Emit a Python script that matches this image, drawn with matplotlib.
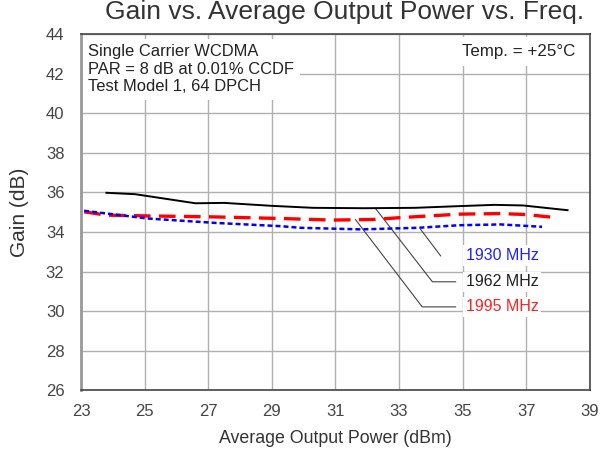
import matplotlib
matplotlib.use('Agg')
import matplotlib.pyplot as plt
import numpy as np

plt.rcParams['font.family'] = ['Liberation Sans', 'DejaVu Sans']

x_1962 = [23.8, 24.7, 26.6, 27.5, 29.0, 30.3, 31.9, 33.5, 34.8, 36.0, 36.9, 38.3]
y_1962 = [35.98, 35.91, 35.45, 35.47, 35.32, 35.22, 35.20, 35.22, 35.30, 35.37, 35.34, 35.10]

x_1995 = [23.1, 23.8, 25.1, 27.2, 29.3, 30.9, 32.2, 33.1, 34.9, 36.2, 37.0, 37.9]
y_1995 = [35.02, 34.85, 34.81, 34.76, 34.68, 34.60, 34.63, 34.73, 34.90, 34.93, 34.88, 34.73]

x_1930 = [23.1, 25.1, 27.2, 29.3, 29.9, 31.8, 33.6, 34.9, 36.2, 37.5]
y_1930 = [35.07, 34.68, 34.46, 34.29, 34.21, 34.13, 34.21, 34.34, 34.38, 34.26]

x_ticks = [23, 25, 27, 29, 31, 33, 35, 37, 39]
y_ticks = [26, 28, 30, 32, 34, 36, 38, 40, 42, 44]

## leader lines: (points), label position, label, colour
leaders = [
    ([33.68, 34.31], [34.13, 32.79], (35.1, 32.8), '1930 MHz', '#2020ff'),
    ([32.26, 34.05, 34.78], [35.19, 31.48, 31.48], (35.1, 31.48), '1962 MHz', '#222222'),
    ([31.63, 33.73, 34.78], [34.63, 30.21, 30.21], (35.1, 30.21), '1995 MHz', '#ff2020'),
]

txt_col = '#333333'

fig = plt.figure(figsize=(6, 4.5), dpi=100)
ax = fig.add_axes([0.135, 0.133, 0.848, 0.791])

ax.plot(x_1962, y_1962, color='black', lw=1.4, zorder=3)
ax.plot(x_1995, y_1995, color='#ff0000', lw=2.4, ls=(0, (5, 2.5)), zorder=3)
ax.plot(x_1930, y_1930, color='#0000ff', lw=1.8, ls=(0, (2, 1.2)), zorder=3)

for lx, ly, pos, lab, col in leaders:
    ax.plot(lx, ly, color='#444444', lw=0.8, zorder=2)
    ax.text(pos[0], pos[1], lab, color=col, fontsize=11.5, va='center', ha='left',
            bbox=dict(facecolor='white', edgecolor='none', pad=2), zorder=2.5)

ax.set_xlim(23, 39)
ax.set_ylim(26, 44)
ax.set_xticks(x_ticks)
ax.set_yticks(y_ticks)
ax.grid(True, color='#b0b0b0', lw=1.0)
ax.set_axisbelow(True)
ax.tick_params(length=0, labelsize=12, colors='#444444')
ax.tick_params(axis='x', pad=10)
ax.tick_params(axis='y', pad=12)
for s in ax.spines.values():
    s.set_color('#444444')
    s.set_linewidth(1.2)
ax.spines['left'].set_color('#999999')
ax.spines['left'].set_linewidth(2)

ax.text(0.014, 0.972, 'Single Carrier WCDMA\nPAR = 8 dB at 0.01% CCDF\nTest Model 1, 64 DPCH',
        transform=ax.transAxes, fontsize=11.9, color='#222222', va='top', ha='left',
        linespacing=1.22, bbox=dict(facecolor='white', edgecolor='none', pad=4))
ax.text(0.972, 0.972, 'Temp. = +25\u00b0C', transform=ax.transAxes, fontsize=12.2,
        color='#222222', va='top', ha='right',
        bbox=dict(facecolor='white', edgecolor='none', pad=5))

ax.set_xlabel('Average Output Power (dBm)', fontsize=12.8, color=txt_col, labelpad=8)
ax.set_ylabel('Gain (dB)', fontsize=15, color=txt_col, labelpad=12)
fig.suptitle('Gain vs. Average Output Power vs. Freq.', fontsize=19, color=txt_col,
             x=0.575, y=1.0)

fig.savefig('out.png', dpi=100)
